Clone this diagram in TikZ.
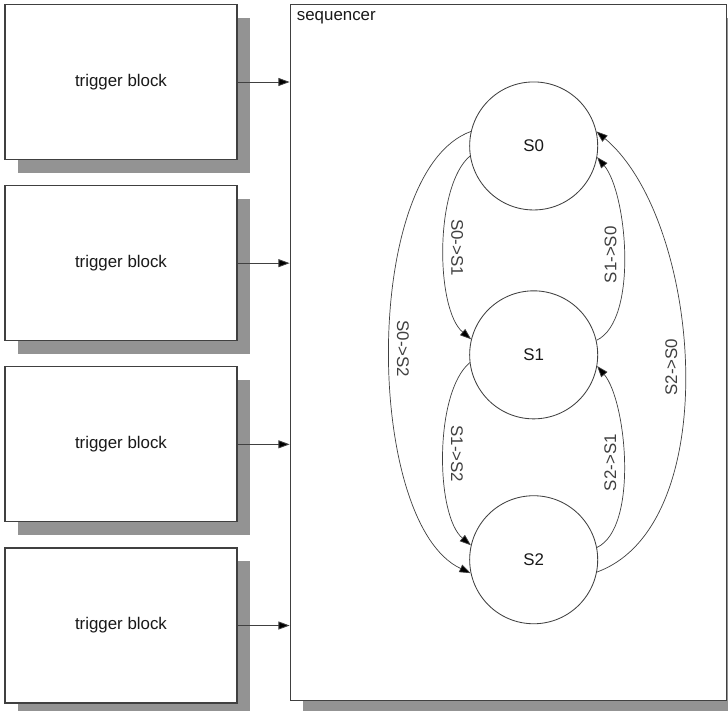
\documentclass[tikz,border=0pt]{standalone}
\usepackage{fontspec}
\setmainfont{Liberation Sans}
\usepackage{tikz}
\usetikzlibrary{arrows.meta, positioning, shadows}
\usepackage{xcolor}
\definecolor{linegray}{HTML}{404040}
\definecolor{shadowgray}{HTML}{939393}

\begin{document}
\begin{tikzpicture}[
    x=0.025cm, y=0.025cm,
    font=\fontsize{12}{14}\selectfont, text=black!90,
    trig/.style={rectangle, draw=linegray, line width=0.8pt, fill=white,
                 minimum width=5.8cm, minimum height=3.875cm, align=center,
                 drop shadow={shadow xshift=0.325cm, shadow yshift=-0.33cm,
                              fill=shadowgray, opacity=1}},
    seqbox/.style={rectangle, draw=linegray, line width=0.8pt, fill=white,
                   minimum width=10.9cm, minimum height=17.4cm,
                   drop shadow={shadow xshift=0.325cm, shadow yshift=-0.33cm,
                                fill=shadowgray, opacity=1}},
    state/.style={circle, draw=linegray, line width=0.6pt, minimum size=3.2cm,
                  inner sep=0pt},
    arr/.style={-{Triangle[length=2.8mm, width=2mm, fill=black]}, line width=0.6pt, color=linegray},
    trans/.style={-{Triangle[length=2.8mm, width=2mm, fill=black]}, line width=0.5pt, color=linegray},
    lbldown/.style={rotate=-90, anchor=south, inner sep=5pt},
    lblup/.style={rotate=90, anchor=south, inner sep=5pt}
  ]
    \useasboundingbox (0,0) rectangle (728,710);
    % trigger blocks
    \node[trig] (t1) at (121,628) {trigger block};
    \node[trig, below=0.625cm of t1] (t2) {trigger block};
    \node[trig, below=0.625cm of t2] (t3) {trigger block};
    \node[trig, below=0.625cm of t3] (t4) {trigger block};
    % sequencer
    \node[seqbox, anchor=north west] (seq) at ([xshift=1.3cm]t1.north east) {};
    \node[anchor=north west, inner sep=5pt] (seqlbl) at (seq.north west) {sequencer};
    \foreach \t in {t1,t2,t3,t4}
      \draw[arr] (\t.east) -- (\t.east -| seq.west);
    % states
    \node[state] (s0) at ([xshift=6.1cm, yshift=-3.55cm]seq.north west) {S0};
    \node[state, below=2cm of s0] (s1) {S1};
    \node[state, below=1.9cm of s1] (s2) {S2};
    % transitions
    \draw[trans] (s0.189) to[out=220, in=140, looseness=0.65]
      node[midway, lbldown] {S0->S1} (s1.166);
    \draw[trans] (s1.13) to[out=25, in=-50, looseness=0.65]
      node[midway, lblup] {S1->S0} (s0.350);
    \draw[trans] (s1.187) to[out=220, in=140, looseness=0.65]
      node[midway, lbldown] {S1->S2} (s2.167);
    \draw[trans] (s2.11) to[out=25, in=-50, looseness=0.65]
      node[midway, lblup] {S2->S1} (s1.350);
    \draw[trans] (s0.167) to[out=200, in=155, looseness=0.68]
      node[midway, lbldown] {S0->S2} (s2.192);
    \draw[trans] (s2.349) to[out=20, in=-40, looseness=0.8]
      node[midway, lblup] {S2->S0} (s0.13);
  \end{tikzpicture}
\end{document}
